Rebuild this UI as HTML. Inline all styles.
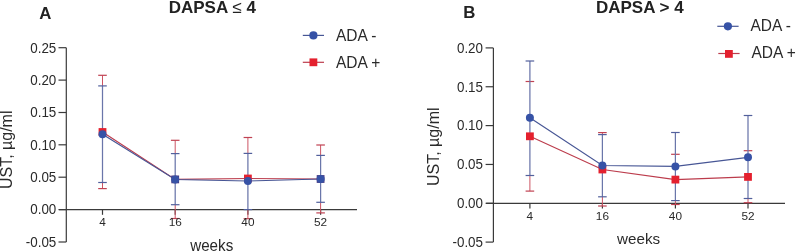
<!DOCTYPE html><html><head><meta charset="utf-8"><style>html,body{margin:0;padding:0;background:#fff;}svg{display:block;will-change:transform;}text{font-family:"Liberation Sans",sans-serif;}</style></head><body>
<svg width="797" height="251" viewBox="0 0 797 251">
<line x1="66.3" y1="47.7" x2="66.3" y2="242.0" stroke="#3a3a3a" stroke-width="1.2"/>
<line x1="58.5" y1="47.7" x2="66.3" y2="47.7" stroke="#3a3a3a" stroke-width="1.2"/>
<text transform="translate(56.30,52.50) scale(1,1.05)" font-size="13.4" text-anchor="end" fill="#2a2a2a">0.25</text>
<line x1="58.5" y1="80.1" x2="66.3" y2="80.1" stroke="#3a3a3a" stroke-width="1.2"/>
<text transform="translate(56.30,84.90) scale(1,1.05)" font-size="13.4" text-anchor="end" fill="#2a2a2a">0.20</text>
<line x1="58.5" y1="112.5" x2="66.3" y2="112.5" stroke="#3a3a3a" stroke-width="1.2"/>
<text transform="translate(56.30,117.30) scale(1,1.05)" font-size="13.4" text-anchor="end" fill="#2a2a2a">0.15</text>
<line x1="58.5" y1="144.8" x2="66.3" y2="144.8" stroke="#3a3a3a" stroke-width="1.2"/>
<text transform="translate(56.30,149.60) scale(1,1.05)" font-size="13.4" text-anchor="end" fill="#2a2a2a">0.10</text>
<line x1="58.5" y1="177.2" x2="66.3" y2="177.2" stroke="#3a3a3a" stroke-width="1.2"/>
<text transform="translate(56.30,182.00) scale(1,1.05)" font-size="13.4" text-anchor="end" fill="#2a2a2a">0.05</text>
<line x1="58.5" y1="209.6" x2="66.3" y2="209.6" stroke="#3a3a3a" stroke-width="1.2"/>
<text transform="translate(56.30,214.40) scale(1,1.05)" font-size="13.4" text-anchor="end" fill="#2a2a2a">0.00</text>
<line x1="58.5" y1="242.0" x2="66.3" y2="242.0" stroke="#3a3a3a" stroke-width="1.2"/>
<text transform="translate(56.30,246.80) scale(1,1.05)" font-size="13.4" text-anchor="end" fill="#2a2a2a">-0.05</text>
<line x1="58.9" y1="209.6" x2="357" y2="209.6" stroke="#3a3a3a" stroke-width="1.2"/>
<line x1="102.5" y1="209.6" x2="102.5" y2="214.79999999999998" stroke="#3a3a3a" stroke-width="1.2"/>
<line x1="175.2" y1="209.6" x2="175.2" y2="214.79999999999998" stroke="#3a3a3a" stroke-width="1.2"/>
<line x1="247.9" y1="209.6" x2="247.9" y2="214.79999999999998" stroke="#3a3a3a" stroke-width="1.2"/>
<line x1="320.6" y1="209.6" x2="320.6" y2="214.79999999999998" stroke="#3a3a3a" stroke-width="1.2"/>
<line x1="102.5" y1="75.3" x2="102.5" y2="85.9" stroke="#cc5464" stroke-width="1.0"/>
<line x1="102.5" y1="182.5" x2="102.5" y2="188.6" stroke="#cc5464" stroke-width="1.0"/>
<line x1="98.2" y1="75.3" x2="106.8" y2="75.3" stroke="#c04252" stroke-width="1.2"/>
<line x1="98.2" y1="188.6" x2="106.8" y2="188.6" stroke="#c04252" stroke-width="1.2"/>
<line x1="175.2" y1="140.3" x2="175.2" y2="153.6" stroke="#cc5464" stroke-width="1.0"/>
<line x1="175.2" y1="204.7" x2="175.2" y2="218.5" stroke="#cc5464" stroke-width="1.0"/>
<line x1="170.89999999999998" y1="140.3" x2="179.5" y2="140.3" stroke="#c04252" stroke-width="1.2"/>
<line x1="170.89999999999998" y1="218.5" x2="179.5" y2="218.5" stroke="#c04252" stroke-width="1.2"/>
<line x1="247.9" y1="137.5" x2="247.9" y2="153.4" stroke="#cc5464" stroke-width="1.0"/>
<line x1="247.9" y1="209.6" x2="247.9" y2="218.7" stroke="#cc5464" stroke-width="1.0"/>
<line x1="243.6" y1="137.5" x2="252.20000000000002" y2="137.5" stroke="#c04252" stroke-width="1.2"/>
<line x1="243.6" y1="218.7" x2="252.20000000000002" y2="218.7" stroke="#c04252" stroke-width="1.2"/>
<line x1="320.6" y1="145" x2="320.6" y2="155.4" stroke="#cc5464" stroke-width="1.0"/>
<line x1="320.6" y1="202.3" x2="320.6" y2="212.9" stroke="#cc5464" stroke-width="1.0"/>
<line x1="316.3" y1="145" x2="324.90000000000003" y2="145" stroke="#c04252" stroke-width="1.2"/>
<line x1="316.3" y1="212.9" x2="324.90000000000003" y2="212.9" stroke="#c04252" stroke-width="1.2"/>
<polyline points="102.5,132 175.2,179.4 247.9,178.5 320.6,179" fill="none" stroke="#bc3c4c" stroke-width="1.2"/>
<line x1="102.5" y1="85.9" x2="102.5" y2="182.5" stroke="#6a76aa" stroke-width="1.25"/>
<line x1="98.2" y1="85.9" x2="106.8" y2="85.9" stroke="#52609c" stroke-width="1.2"/>
<line x1="98.2" y1="182.5" x2="106.8" y2="182.5" stroke="#52609c" stroke-width="1.2"/>
<line x1="175.2" y1="153.6" x2="175.2" y2="204.7" stroke="#6a76aa" stroke-width="1.25"/>
<line x1="170.89999999999998" y1="153.6" x2="179.5" y2="153.6" stroke="#52609c" stroke-width="1.2"/>
<line x1="170.89999999999998" y1="204.7" x2="179.5" y2="204.7" stroke="#52609c" stroke-width="1.2"/>
<line x1="247.9" y1="153.4" x2="247.9" y2="209.6" stroke="#6a76aa" stroke-width="1.25"/>
<line x1="243.6" y1="153.4" x2="252.20000000000002" y2="153.4" stroke="#52609c" stroke-width="1.2"/>
<line x1="243.6" y1="209.6" x2="252.20000000000002" y2="209.6" stroke="#52609c" stroke-width="1.2"/>
<line x1="320.6" y1="155.4" x2="320.6" y2="202.3" stroke="#6a76aa" stroke-width="1.25"/>
<line x1="316.3" y1="155.4" x2="324.90000000000003" y2="155.4" stroke="#52609c" stroke-width="1.2"/>
<line x1="316.3" y1="202.3" x2="324.90000000000003" y2="202.3" stroke="#52609c" stroke-width="1.2"/>
<polyline points="102.5,134.2 175.2,179.5 247.9,181 320.6,179" fill="none" stroke="#475695" stroke-width="1.2"/>
<rect x="98.6" y="128.1" width="7.8" height="7.8" fill="#e4202e"/>
<rect x="171.29999999999998" y="175.5" width="7.8" height="7.8" fill="#4a3a80"/>
<rect x="244.0" y="174.6" width="7.8" height="7.8" fill="#e4202e"/>
<rect x="316.70000000000005" y="175.1" width="7.8" height="7.8" fill="#4a3a80"/>
<circle cx="102.5" cy="134.2" r="4.0" fill="#3652a6"/>
<circle cx="175.2" cy="179.5" r="4.0" fill="#3652a6"/>
<circle cx="247.9" cy="181" r="4.0" fill="#3652a6"/>
<circle cx="320.6" cy="179" r="4.0" fill="#3652a6"/>
<text transform="translate(102.50,226.30) scale(1,1.0)" font-size="11.8" text-anchor="middle" fill="#2a2a2a">4</text>
<text transform="translate(175.20,226.30) scale(1,1.0)" font-size="11.8" text-anchor="middle" fill="#2a2a2a">16</text>
<text transform="translate(247.90,226.30) scale(1,1.0)" font-size="11.8" text-anchor="middle" fill="#2a2a2a">40</text>
<text transform="translate(320.60,226.30) scale(1,1.0)" font-size="11.8" text-anchor="middle" fill="#2a2a2a">52</text>
<line x1="302.8" y1="35.4" x2="324" y2="35.4" stroke="#475695" stroke-width="1.2"/>
<circle cx="313.4" cy="35.4" r="4.1" fill="#3652a6"/>
<line x1="302.8" y1="62.3" x2="324" y2="62.3" stroke="#bc3c4c" stroke-width="1.2"/>
<rect x="309.5" y="58.4" width="7.8" height="7.8" fill="#e4202e"/>
<text transform="translate(336.00,40.70) scale(1,1.04)" font-size="15.5" fill="#2a2a2a">ADA -</text>
<text transform="translate(336.00,67.60) scale(1,1.04)" font-size="15.5" fill="#2a2a2a">ADA +</text>
<text transform="translate(39.20,19.20) scale(1,1.0)" font-size="16.8" font-weight="bold" fill="#222">A</text>
<text transform="translate(168.70,13.20) scale(1,1.0)" font-size="17.0" font-weight="bold" fill="#222">DAPSA <tspan font-weight="normal">≤</tspan> 4</text>
<text transform="translate(12,189.10000000000002) rotate(-90) scale(1.0,1)" font-size="16.0" fill="#2a2a2a">UST, µg/ml</text>
<text transform="translate(211.70,250.80) scale(1,1.05)" font-size="15.2" text-anchor="middle" fill="#2a2a2a">weeks</text>
<line x1="493.4" y1="47.9" x2="493.4" y2="242.1" stroke="#3a3a3a" stroke-width="1.2"/>
<line x1="485.59999999999997" y1="47.9" x2="493.4" y2="47.9" stroke="#3a3a3a" stroke-width="1.2"/>
<text transform="translate(483.00,52.70) scale(1,1.05)" font-size="13.4" text-anchor="end" fill="#2a2a2a">0.20</text>
<line x1="485.59999999999997" y1="86.75" x2="493.4" y2="86.75" stroke="#3a3a3a" stroke-width="1.2"/>
<text transform="translate(483.00,91.55) scale(1,1.05)" font-size="13.4" text-anchor="end" fill="#2a2a2a">0.15</text>
<line x1="485.59999999999997" y1="125.6" x2="493.4" y2="125.6" stroke="#3a3a3a" stroke-width="1.2"/>
<text transform="translate(483.00,130.40) scale(1,1.05)" font-size="13.4" text-anchor="end" fill="#2a2a2a">0.10</text>
<line x1="485.59999999999997" y1="164.45" x2="493.4" y2="164.45" stroke="#3a3a3a" stroke-width="1.2"/>
<text transform="translate(483.00,169.25) scale(1,1.05)" font-size="13.4" text-anchor="end" fill="#2a2a2a">0.05</text>
<line x1="485.59999999999997" y1="203.3" x2="493.4" y2="203.3" stroke="#3a3a3a" stroke-width="1.2"/>
<text transform="translate(483.00,208.10) scale(1,1.05)" font-size="13.4" text-anchor="end" fill="#2a2a2a">0.00</text>
<line x1="485.59999999999997" y1="242.1" x2="493.4" y2="242.1" stroke="#3a3a3a" stroke-width="1.2"/>
<text transform="translate(483.00,246.90) scale(1,1.05)" font-size="13.4" text-anchor="end" fill="#2a2a2a">-0.05</text>
<line x1="486.1" y1="203.3" x2="785" y2="203.3" stroke="#3a3a3a" stroke-width="1.2"/>
<line x1="529.9" y1="203.3" x2="529.9" y2="208.5" stroke="#3a3a3a" stroke-width="1.2"/>
<line x1="602.4" y1="203.3" x2="602.4" y2="208.5" stroke="#3a3a3a" stroke-width="1.2"/>
<line x1="675.4" y1="203.3" x2="675.4" y2="208.5" stroke="#3a3a3a" stroke-width="1.2"/>
<line x1="748.0" y1="203.3" x2="748.0" y2="208.5" stroke="#3a3a3a" stroke-width="1.2"/>
<line x1="529.9" y1="175.5" x2="529.9" y2="191.1" stroke="#cc5464" stroke-width="1.0"/>
<line x1="525.6" y1="81.5" x2="534.1999999999999" y2="81.5" stroke="#c04252" stroke-width="1.2"/>
<line x1="525.6" y1="191.1" x2="534.1999999999999" y2="191.1" stroke="#c04252" stroke-width="1.2"/>
<line x1="602.4" y1="132.6" x2="602.4" y2="134.6" stroke="#cc5464" stroke-width="1.0"/>
<line x1="602.4" y1="196.8" x2="602.4" y2="206" stroke="#cc5464" stroke-width="1.0"/>
<line x1="598.1" y1="132.6" x2="606.6999999999999" y2="132.6" stroke="#c04252" stroke-width="1.2"/>
<line x1="598.1" y1="206" x2="606.6999999999999" y2="206" stroke="#c04252" stroke-width="1.2"/>
<line x1="675.4" y1="200.6" x2="675.4" y2="204.5" stroke="#cc5464" stroke-width="1.0"/>
<line x1="671.1" y1="154.3" x2="679.6999999999999" y2="154.3" stroke="#c04252" stroke-width="1.2"/>
<line x1="671.1" y1="204.5" x2="679.6999999999999" y2="204.5" stroke="#c04252" stroke-width="1.2"/>
<line x1="748.0" y1="198.5" x2="748.0" y2="202.7" stroke="#cc5464" stroke-width="1.0"/>
<line x1="743.7" y1="150.7" x2="752.3" y2="150.7" stroke="#c04252" stroke-width="1.2"/>
<line x1="743.7" y1="202.7" x2="752.3" y2="202.7" stroke="#c04252" stroke-width="1.2"/>
<polyline points="529.9,136.3 602.4,169.5 675.4,179.6 748.0,176.9" fill="none" stroke="#bc3c4c" stroke-width="1.2"/>
<line x1="529.9" y1="61" x2="529.9" y2="175.5" stroke="#6a76aa" stroke-width="1.25"/>
<line x1="525.6" y1="61" x2="534.1999999999999" y2="61" stroke="#52609c" stroke-width="1.2"/>
<line x1="525.6" y1="175.5" x2="534.1999999999999" y2="175.5" stroke="#52609c" stroke-width="1.2"/>
<line x1="602.4" y1="134.6" x2="602.4" y2="196.8" stroke="#6a76aa" stroke-width="1.25"/>
<line x1="598.1" y1="134.6" x2="606.6999999999999" y2="134.6" stroke="#52609c" stroke-width="1.2"/>
<line x1="598.1" y1="196.8" x2="606.6999999999999" y2="196.8" stroke="#52609c" stroke-width="1.2"/>
<line x1="675.4" y1="132.5" x2="675.4" y2="200.6" stroke="#6a76aa" stroke-width="1.25"/>
<line x1="671.1" y1="132.5" x2="679.6999999999999" y2="132.5" stroke="#52609c" stroke-width="1.2"/>
<line x1="671.1" y1="200.6" x2="679.6999999999999" y2="200.6" stroke="#52609c" stroke-width="1.2"/>
<line x1="748.0" y1="115.5" x2="748.0" y2="198.5" stroke="#6a76aa" stroke-width="1.25"/>
<line x1="743.7" y1="115.5" x2="752.3" y2="115.5" stroke="#52609c" stroke-width="1.2"/>
<line x1="743.7" y1="198.5" x2="752.3" y2="198.5" stroke="#52609c" stroke-width="1.2"/>
<polyline points="529.9,117.7 602.4,165.5 675.4,166.4 748.0,157.3" fill="none" stroke="#475695" stroke-width="1.2"/>
<rect x="526.0" y="132.4" width="7.8" height="7.8" fill="#e4202e"/>
<rect x="598.5" y="165.6" width="7.8" height="7.8" fill="#e4202e"/>
<rect x="671.5" y="175.7" width="7.8" height="7.8" fill="#e4202e"/>
<rect x="744.1" y="173.0" width="7.8" height="7.8" fill="#e4202e"/>
<circle cx="529.9" cy="117.7" r="4.0" fill="#3652a6"/>
<circle cx="602.4" cy="165.5" r="4.0" fill="#3652a6"/>
<circle cx="675.4" cy="166.4" r="4.0" fill="#3652a6"/>
<circle cx="748.0" cy="157.3" r="4.0" fill="#3652a6"/>
<text transform="translate(529.90,220.20) scale(1,1.0)" font-size="11.8" text-anchor="middle" fill="#2a2a2a">4</text>
<text transform="translate(602.40,220.20) scale(1,1.0)" font-size="11.8" text-anchor="middle" fill="#2a2a2a">16</text>
<text transform="translate(675.40,220.20) scale(1,1.0)" font-size="11.8" text-anchor="middle" fill="#2a2a2a">40</text>
<text transform="translate(748.00,220.20) scale(1,1.0)" font-size="11.8" text-anchor="middle" fill="#2a2a2a">52</text>
<line x1="717.3" y1="26.3" x2="738.6" y2="26.3" stroke="#475695" stroke-width="1.2"/>
<circle cx="727.9" cy="26.3" r="4.1" fill="#3652a6"/>
<line x1="718.3" y1="53.5" x2="739.6" y2="53.5" stroke="#bc3c4c" stroke-width="1.2"/>
<rect x="725.0" y="50.0" width="7.8" height="7.8" fill="#e4202e"/>
<text transform="translate(750.40,31.10) scale(1,1.04)" font-size="15.5" fill="#2a2a2a">ADA -</text>
<text transform="translate(751.40,58.30) scale(1,1.04)" font-size="15.5" fill="#2a2a2a">ADA +</text>
<text transform="translate(463.30,17.60) scale(1,1.0)" font-size="16.8" font-weight="bold" fill="#222">B</text>
<text transform="translate(595.90,12.70) scale(1,1.0)" font-size="17.0" font-weight="bold" fill="#222">DAPSA &gt; 4</text>
<text transform="translate(439.4,186.0) rotate(-90) scale(1.0,1)" font-size="16.0" fill="#2a2a2a">UST, µg/ml</text>
<text transform="translate(638.60,243.70) scale(1,1.0)" font-size="15.2" text-anchor="middle" fill="#2a2a2a">weeks</text>
</svg></body></html>
